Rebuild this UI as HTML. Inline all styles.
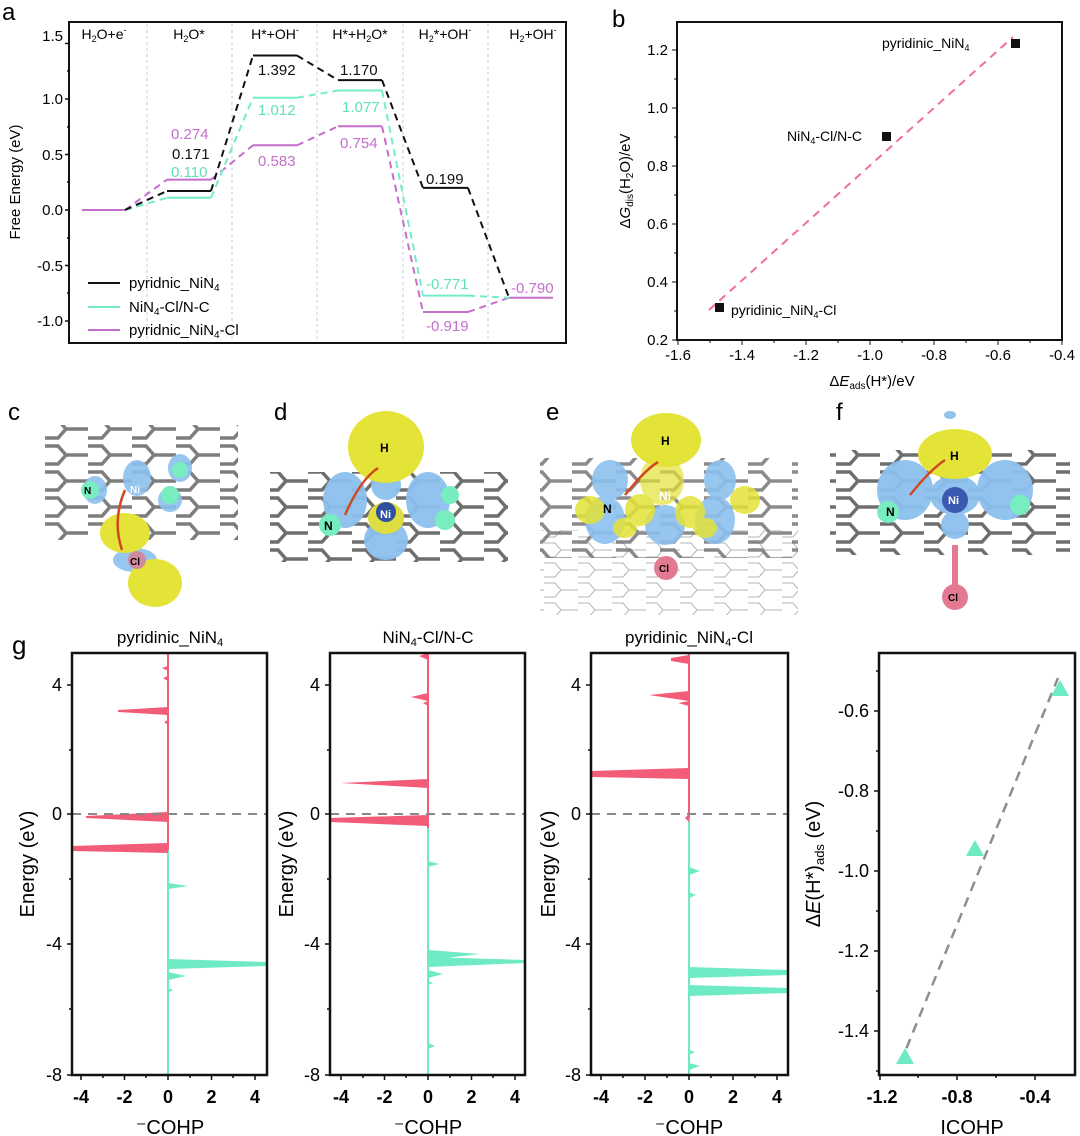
<!DOCTYPE html>
<html><head><meta charset="utf-8"><style>
html,body{margin:0;padding:0;background:#fff}
svg{display:block;font-family:"Liberation Sans",sans-serif}
</style></head><body>
<svg width="1080" height="1136" viewBox="0 0 1080 1136" xmlns="http://www.w3.org/2000/svg">
<rect width="1080" height="1136" fill="#fff"/>

<!-- ===== Panel a ===== -->
<text x="2" y="20" font-size="24">a</text>
<g stroke="#c8c8d8" stroke-width="1" stroke-dasharray="3,3">
<line x1="147" y1="24" x2="147" y2="342"/><line x1="232" y1="24" x2="232" y2="342"/>
<line x1="317" y1="24" x2="317" y2="342"/><line x1="403" y1="24" x2="403" y2="342"/>
<line x1="488" y1="24" x2="488" y2="342"/></g>
<rect x="69" y="22" width="497" height="321" fill="none" stroke="#111" stroke-width="2"/>
<g font-size="15" text-anchor="end">
<text x="63" y="41">1.5</text><text x="63" y="104">1.0</text><text x="63" y="160">0.5</text>
<text x="63" y="215">0.0</text><text x="63" y="271">-0.5</text><text x="63" y="326">-1.0</text></g>
<g stroke="#111" stroke-width="1.5"><path d="M69 43.5h-4M69 99h-4M69 154.5h-4M69 210h-4M69 265.5h-4M69 321h-4M69 71h-2M69 127h-2M69 182h-2M69 238h-2M69 293h-2"/></g>
<text transform="translate(20,182) rotate(-90)" font-size="15" text-anchor="middle">Free Energy (eV)</text>
<g font-size="14" text-anchor="middle">
<text x="104" y="39">H<tspan font-size="9" dy="3">2</tspan><tspan dy="-3">O+e</tspan><tspan font-size="9" dy="-6">-</tspan></text>
<text x="189" y="39">H<tspan font-size="9" dy="3">2</tspan><tspan dy="-3">O*</tspan></text>
<text x="275" y="39">H*+OH<tspan font-size="9" dy="-6">-</tspan></text>
<text x="360" y="39">H*+H<tspan font-size="9" dy="3">2</tspan><tspan dy="-3">O*</tspan></text>
<text x="445" y="39">H<tspan font-size="9" dy="3">2</tspan><tspan dy="-3">*+OH</tspan><tspan font-size="9" dy="-6">-</tspan></text>
<text x="533" y="39">H<tspan font-size="9" dy="3">2</tspan><tspan dy="-3">+OH</tspan><tspan font-size="9" dy="-6">-</tspan></text></g>
<g fill="none" stroke-width="2">
<g stroke="#c46fcb">
<path d="M82 210H125M167 179.6H211M253 145.3H297M338 126.3H382M423 312H468M509 297.7H553"/>
<path stroke-dasharray="7,5" d="M125 210L167 179.6M211 179.6L253 145.3M297 145.3L338 126.3M382 126.3L423 312M468 312L509 297.7"/></g>
<g stroke="#72ecc9">
<path d="M167 197.8H211M253 97.7H297M338 90.5H382M423 295.6H468"/>
<path stroke-dasharray="7,5" d="M125 210L167 197.8M211 197.8L253 97.7M297 97.7L338 90.5M382 90.5L423 295.6M468 295.6L509 297.7"/></g>
<g stroke="#111">
<path d="M167 191H211M253 55.5H297M338 80.1H382M423 187.9H468"/>
<path stroke-dasharray="7,5" d="M125 210L167 191M211 191L253 55.5M297 55.5L338 80.1M382 80.1L423 187.9M468 187.9L509 297.7"/></g>
</g>
<g font-size="15">
<text x="171" y="139" fill="#c46fcb">0.274</text>
<text x="172" y="159" fill="#111">0.171</text>
<text x="171" y="177" fill="#5fe0bc">0.110</text>
<text x="258" y="75" fill="#111">1.392</text>
<text x="258" y="115" fill="#5fe0bc">1.012</text>
<text x="258" y="166" fill="#c46fcb">0.583</text>
<text x="340" y="75" fill="#111">1.170</text>
<text x="342" y="112" fill="#5fe0bc">1.077</text>
<text x="340" y="148" fill="#c46fcb">0.754</text>
<text x="426" y="184" fill="#111">0.199</text>
<text x="426" y="289" fill="#5fe0bc">-0.771</text>
<text x="426" y="331" fill="#c46fcb">-0.919</text>
<text x="511" y="293" fill="#c46fcb">-0.790</text>
</g>
<g stroke-width="2"><line x1="88" y1="283" x2="120" y2="283" stroke="#111"/><line x1="88" y1="307" x2="120" y2="307" stroke="#72ecc9"/><line x1="88" y1="330" x2="120" y2="330" stroke="#c46fcb"/></g>
<g font-size="15"><text x="129" y="288">pyridnic_NiN<tspan font-size="10" dy="3">4</tspan></text>
<text x="129" y="312">NiN<tspan font-size="10" dy="3">4</tspan><tspan dy="-3">-Cl/N-C</tspan></text>
<text x="129" y="335">pyridnic_NiN<tspan font-size="10" dy="3">4</tspan><tspan dy="-3">-Cl</tspan></text></g>

<!-- ===== Panel b ===== -->
<text x="612" y="27" font-size="24">b</text>
<rect x="677" y="22" width="385" height="318" fill="none" stroke="#111" stroke-width="2"/>
<g font-size="15" text-anchor="end">
<text x="668" y="55">1.2</text><text x="668" y="113">1.0</text><text x="668" y="171">0.8</text>
<text x="668" y="229">0.6</text><text x="668" y="287">0.4</text><text x="668" y="345">0.2</text></g>
<g stroke="#111"><path d="M677 50h-5M677 108h-5M677 166h-5M677 224h-5M677 282h-5M677 340h-5M677 79h-3M677 137h-3M677 195h-3M677 253h-3M677 311h-3"/>
<path d="M678 340v5M742 340v5M806 340v5M870 340v5M934 340v5M998 340v5M1062 340v5M710 340v3M774 340v3M838 340v3M902 340v3M966 340v3M1030 340v3"/></g>
<g font-size="15" text-anchor="middle">
<text x="678" y="360">-1.6</text><text x="742" y="360">-1.4</text><text x="806" y="360">-1.2</text><text x="870" y="360">-1.0</text><text x="934" y="360">-0.8</text><text x="998" y="360">-0.6</text><text x="1062" y="360">-0.4</text></g>
<text x="872" y="386" font-size="15" text-anchor="middle">Δ<tspan font-style="italic">E</tspan><tspan font-size="10" dy="3">ads</tspan><tspan dy="-3">(H*)/eV</tspan></text>
<text transform="translate(630,181) rotate(-90)" font-size="15" text-anchor="middle">Δ<tspan font-style="italic">G</tspan><tspan font-size="10" dy="3">dis</tspan><tspan dy="-3">(H</tspan><tspan font-size="10" dy="3">2</tspan><tspan dy="-3">O)/eV</tspan></text>
<line x1="709" y1="310" x2="1013" y2="37" stroke="#f07090" stroke-width="2" stroke-dasharray="8,6"/>
<g fill="#111"><rect x="1011" y="39" width="9" height="9"/><rect x="882" y="132" width="9" height="9"/><rect x="715" y="303" width="9" height="9"/></g>
<g font-size="14"><text x="882" y="48">pyridinic_NiN<tspan font-size="9" dy="3">4</tspan></text>
<text x="787" y="141">NiN<tspan font-size="9" dy="3">4</tspan><tspan dy="-3">-Cl/N-C</tspan></text>
<text x="731" y="315">pyridinic_NiN<tspan font-size="9" dy="3">4</tspan><tspan dy="-3">-Cl</tspan></text></g>

<!-- ===== Molecular panels c-f ===== -->
<g font-size="24"><text x="8" y="420">c</text><text x="274" y="420">d</text><text x="546" y="420">e</text><text x="836" y="420">f</text></g>
<defs>
<pattern id="gr" width="44" height="26" patternUnits="userSpaceOnUse">
<path d="M0 4H14L22 13L14 22H0M22 13H44" fill="none" stroke="#6e6e6e" stroke-width="3.5"/></pattern>
<pattern id="gl" width="34" height="20" patternUnits="userSpaceOnUse">
<path d="M0 3H11L17 10L11 17H0M17 10H34" fill="none" stroke="#b5b5b5" stroke-width="1"/></pattern>
</defs>
<rect x="45" y="425" width="193" height="115" fill="url(#gr)" opacity="0.9"/>
<g fill="#8cc0ee" opacity="0.9"><ellipse cx="137" cy="478" rx="14" ry="18"/><ellipse cx="95" cy="490" rx="12" ry="14"/><ellipse cx="180" cy="468" rx="12" ry="14"/><ellipse cx="170" cy="500" rx="12" ry="12"/><ellipse cx="135" cy="560" rx="22" ry="12"/></g>
<g fill="#78eec0"><circle cx="90" cy="490" r="9"/><circle cx="170" cy="495" r="9"/><circle cx="180" cy="470" r="8"/></g>
<g fill="#e3e338"><ellipse cx="125" cy="533" rx="25" ry="20"/><ellipse cx="155" cy="583" rx="27" ry="24"/></g>
<circle cx="137" cy="560" r="9" fill="#d08aa0"/><text x="130" y="565" font-size="10" font-weight="bold">Cl</text>
<text x="130" y="493" font-size="10" font-weight="bold" fill="#fff">Ni</text><text x="84" y="494" font-size="10" font-weight="bold">N</text>
<path d="M125 490Q112 520 122 550" fill="none" stroke="#d04a20" stroke-width="2.5"/>
<rect x="270" y="472" width="238" height="90" fill="url(#gr)"/>
<g fill="#8cc0ee" opacity="0.95"><ellipse cx="345" cy="500" rx="22" ry="28"/><ellipse cx="428" cy="500" rx="22" ry="28"/><ellipse cx="386" cy="540" rx="22" ry="20"/><ellipse cx="386" cy="485" rx="15" ry="15"/></g>
<g fill="#78eec0"><circle cx="330" cy="525" r="11"/><circle cx="445" cy="520" r="10"/><circle cx="450" cy="495" r="9"/></g>
<ellipse cx="386" cy="447" rx="38" ry="36" fill="#e3e338"/>
<ellipse cx="386" cy="518" rx="18" ry="16" fill="#dede40"/><circle cx="386" cy="512" r="10" fill="#3050a0"/>
<text x="380" y="518" font-size="11" font-weight="bold" fill="#fff">Ni</text>
<text x="380" y="452" font-size="12" font-weight="bold">H</text><text x="324" y="530" font-size="12" font-weight="bold">N</text>
<path d="M345 515Q360 480 378 468" fill="none" stroke="#d04a20" stroke-width="2.5"/>
<rect x="540" y="530" width="258" height="85" fill="url(#gl)"/>
<rect x="540" y="458" width="258" height="100" fill="url(#gr)" opacity="0.8"/>
<g fill="#8cc0ee" opacity="0.9"><ellipse cx="610" cy="480" rx="18" ry="20"/><ellipse cx="605" cy="520" rx="20" ry="24"/><ellipse cx="720" cy="480" rx="16" ry="20"/><ellipse cx="715" cy="520" rx="20" ry="24"/><ellipse cx="665" cy="525" rx="20" ry="20"/></g>
<g fill="#e3e338" opacity="0.85"><ellipse cx="590" cy="510" rx="15" ry="14"/><ellipse cx="640" cy="510" rx="15" ry="16"/><ellipse cx="690" cy="512" rx="15" ry="16"/><ellipse cx="745" cy="500" rx="15" ry="14"/><ellipse cx="625" cy="528" rx="12" ry="10"/><ellipse cx="705" cy="528" rx="12" ry="10"/></g>
<ellipse cx="666" cy="440" rx="35" ry="27" fill="#e3e338"/><ellipse cx="662" cy="480" rx="22" ry="25" fill="#e3e338" opacity="0.7"/>
<text x="661" y="445" font-size="12" font-weight="bold">H</text><text x="659" y="500" font-size="12" font-weight="bold" fill="#fff">Ni</text><text x="603" y="513" font-size="12" font-weight="bold">N</text>
<path d="M625 495Q645 470 658 462" fill="none" stroke="#d04a20" stroke-width="2.5"/>
<circle cx="666" cy="568" r="12" fill="#e47a92"/><text x="659" y="572" font-size="10" font-weight="bold">Cl</text>
<rect x="830" y="450" width="240" height="105" fill="url(#gr)"/>
<g fill="#8cc0ee" opacity="0.95"><ellipse cx="905" cy="490" rx="28" ry="30"/><ellipse cx="1005" cy="490" rx="28" ry="30"/><ellipse cx="955" cy="495" rx="25" ry="20"/><ellipse cx="955" cy="525" rx="14" ry="14"/><ellipse cx="950" cy="415" rx="6" ry="4"/></g>
<g fill="#78eec0"><circle cx="888" cy="512" r="11"/><circle cx="1020" cy="505" r="10"/></g>
<ellipse cx="955" cy="454" rx="37" ry="25" fill="#e3e338"/>
<circle cx="955" cy="500" r="13" fill="#3a5ab0"/>
<text x="948" y="504" font-size="11" font-weight="bold" fill="#fff">Ni</text><text x="950" y="460" font-size="12" font-weight="bold">H</text><text x="886" y="516" font-size="12" font-weight="bold">N</text>
<path d="M910 495Q930 470 945 460" fill="none" stroke="#d04a20" stroke-width="2.5"/>
<rect x="952" y="545" width="6" height="45" fill="#e47a92"/>
<circle cx="955" cy="597" r="13" fill="#e47a92"/><text x="948" y="601" font-size="10" font-weight="bold">Cl</text>

<!-- ===== Panel g ===== -->
<text x="12" y="654" font-size="26">g</text>
<g font-size="17" text-anchor="middle">
<text x="170" y="643">pyridinic_NiN<tspan font-size="11" dy="3">4</tspan></text>
<text x="428" y="643">NiN<tspan font-size="11" dy="3">4</tspan><tspan dy="-3">-Cl/N-C</tspan></text>
<text x="689" y="643">pyridinic_NiN<tspan font-size="11" dy="3">4</tspan><tspan dy="-3">-Cl</tspan></text></g>

<!-- panel 1: zero x 168, 21.7/unit -->
<g>
<line x1="168" y1="653" x2="168" y2="850" stroke="#f25c78" stroke-width="2"/>
<line x1="168" y1="850" x2="168" y2="1075" stroke="#6eeac4" stroke-width="2"/>
<g fill="#f25c78">
<polygon points="168,666 162,668 168,671"/><polygon points="168,676 163,678 168,681"/>
<polygon points="168,707 118,710 118,712 168,715"/><polygon points="168,720 164,722 168,725"/>
<polygon points="168,812 86,816 86,818 168,822"/><polygon points="168,843 72,846 72,851 168,853"/></g>
<g fill="#6eeac4">
<polygon points="168,883 188,886 168,889"/><polygon points="168,959 267,962 267,966 168,969"/>
<polygon points="168,972 186,976 168,980"/><polygon points="168,988 173,990 168,993"/></g>
<line x1="72" y1="814" x2="267" y2="814" stroke="#888" stroke-width="2" stroke-dasharray="9,7"/>
<rect x="72" y="653" width="195" height="422" fill="none" stroke="#111" stroke-width="2.5"/>
</g>
<!-- panel 2: zero 428 -->
<g>
<line x1="428" y1="653" x2="428" y2="828" stroke="#f25c78" stroke-width="2"/>
<line x1="428" y1="828" x2="428" y2="1075" stroke="#6eeac4" stroke-width="2"/>
<g fill="#f25c78">
<polygon points="428,653 419,656 428,660"/><polygon points="428,693 411,697 428,701"/><polygon points="428,701 423,703 428,706"/>
<polygon points="428,779 341,783 428,788"/><polygon points="428,815 330,818 330,822 428,826"/></g>
<g fill="#6eeac4">
<polygon points="428,861 439,864 428,867"/><polygon points="428,950 480,954 428,960"/>
<polygon points="428,957 525,960 525,963 428,967"/><polygon points="428,970 443,974 428,978"/><polygon points="428,981 433,983 428,985"/>
<polygon points="428,1043 435,1046 428,1049"/></g>
<line x1="330" y1="814" x2="525" y2="814" stroke="#888" stroke-width="2" stroke-dasharray="9,7"/>
<rect x="330" y="653" width="195" height="422" fill="none" stroke="#111" stroke-width="2.5"/>
</g>
<!-- panel 3: zero 689, 22/unit -->
<g>
<line x1="689" y1="653" x2="689" y2="818" stroke="#f25c78" stroke-width="2"/>
<line x1="689" y1="818" x2="689" y2="1075" stroke="#6eeac4" stroke-width="2"/>
<g fill="#f25c78">
<polygon points="689,655 671,658 671,661 689,664"/><polygon points="689,691 649,695 689,701"/><polygon points="689,701 678,703 689,706"/>
<polygon points="689,768 591,771 591,777 689,779"/><polygon points="689,814 685,818 689,822"/></g>
<g fill="#6eeac4">
<polygon points="689,867 700,871 689,875"/><polygon points="689,892 696,895 689,898"/>
<polygon points="689,967 788,970 788,975 689,978"/><polygon points="689,985 788,988 788,993 689,996"/>
<polygon points="689,1050 695,1052 689,1055"/><polygon points="689,1063 700,1066 689,1070"/></g>
<line x1="591" y1="814" x2="788" y2="814" stroke="#888" stroke-width="2" stroke-dasharray="9,7"/>
<rect x="591" y="653" width="197" height="422" fill="none" stroke="#111" stroke-width="2.5"/>
</g>
<g stroke="#111" stroke-width="1.5">
<path d="M72 685h-5M72 814h-5M72 944h-5M72 1075h-5M72 750h-3M72 879h-3M72 1009h-3 M81 1075v5M124.5 1075v5M168 1075v5M211.5 1075v5M255 1075v5M103 1075v3M146 1075v3M190 1075v3M233 1075v3"/>
<path d="M330 685h-5M330 814h-5M330 944h-5M330 1075h-5M330 750h-3M330 879h-3M330 1009h-3 M341 1075v5M384.5 1075v5M428 1075v5M471.5 1075v5M515 1075v5M363 1075v3M406 1075v3M450 1075v3M493 1075v3"/>
<path d="M591 685h-5M591 814h-5M591 944h-5M591 1075h-5M591 750h-3M591 879h-3M591 1009h-3 M601 1075v5M645 1075v5M689 1075v5M733 1075v5M777 1075v5M623 1075v3M667 1075v3M711 1075v3M755 1075v3"/>
</g>
<g font-size="18" text-anchor="end">
<text x="62" y="691">4</text><text x="62" y="820">0</text><text x="62" y="950">-4</text><text x="62" y="1081">-8</text>
<text x="320" y="691">4</text><text x="320" y="820">0</text><text x="320" y="950">-4</text><text x="320" y="1081">-8</text>
<text x="581" y="691">4</text><text x="581" y="820">0</text><text x="581" y="950">-4</text><text x="581" y="1081">-8</text></g>
<g font-size="18" font-weight="bold" text-anchor="middle">
<text x="81" y="1103">-4</text><text x="124.5" y="1103">-2</text><text x="168" y="1103">0</text><text x="211.5" y="1103">2</text><text x="255" y="1103">4</text>
<text x="341" y="1103">-4</text><text x="384.5" y="1103">-2</text><text x="428" y="1103">0</text><text x="471.5" y="1103">2</text><text x="515" y="1103">4</text>
<text x="601" y="1103">-4</text><text x="645" y="1103">-2</text><text x="689" y="1103">0</text><text x="733" y="1103">2</text><text x="777" y="1103">4</text></g>
<g font-size="20" text-anchor="middle">
<text x="170" y="1134">⁻COHP</text><text x="428" y="1134">⁻COHP</text><text x="689" y="1134">⁻COHP</text></g>
<g font-size="20" text-anchor="middle">
<text transform="translate(34,864) rotate(-90)">Energy (eV)</text>
<text transform="translate(293,864) rotate(-90)">Energy (eV)</text>
<text transform="translate(555,864) rotate(-90)">Energy (eV)</text></g>

<!-- panel 4 -->
<rect x="879" y="653" width="196" height="422" fill="none" stroke="#111" stroke-width="2.5"/>
<g stroke="#111" stroke-width="1.5"><path d="M879 711h-5M879 791h-5M879 871h-5M879 951h-5M879 1031h-5M879 671h-3M879 751h-3M879 831h-3M879 911h-3M879 991h-3M879 1071h-3M880 1075v5M957 1075v5M1035 1075v5M918 1075v3M996 1075v3"/></g>
<g font-size="18" text-anchor="end">
<text x="869" y="717">-0.6</text><text x="869" y="797">-0.8</text><text x="869" y="877">-1.0</text><text x="869" y="957">-1.2</text><text x="869" y="1037">-1.4</text></g>
<g font-size="18" font-weight="bold" text-anchor="middle"><text x="882" y="1103">-1.2</text><text x="957" y="1103">-0.8</text><text x="1035" y="1103">-0.4</text></g>
<text x="972" y="1134" font-size="20" text-anchor="middle">ICOHP</text>
<text transform="translate(820,864) rotate(-90)" font-size="20" text-anchor="middle">Δ<tspan font-style="italic">E</tspan>(H*)<tspan font-size="13" dy="4">ads</tspan><tspan dy="-4"> (eV)</tspan></text>
<line x1="900" y1="1064" x2="1058" y2="678" stroke="#8a9090" stroke-width="2.5" stroke-dasharray="10,7"/>
<g fill="#6eeac4"><polygon points="1060,680 1069,696 1051,696"/><polygon points="975,840 984,856 966,856"/><polygon points="905,1048 914,1064 896,1064"/></g>
</svg>
</body></html>
